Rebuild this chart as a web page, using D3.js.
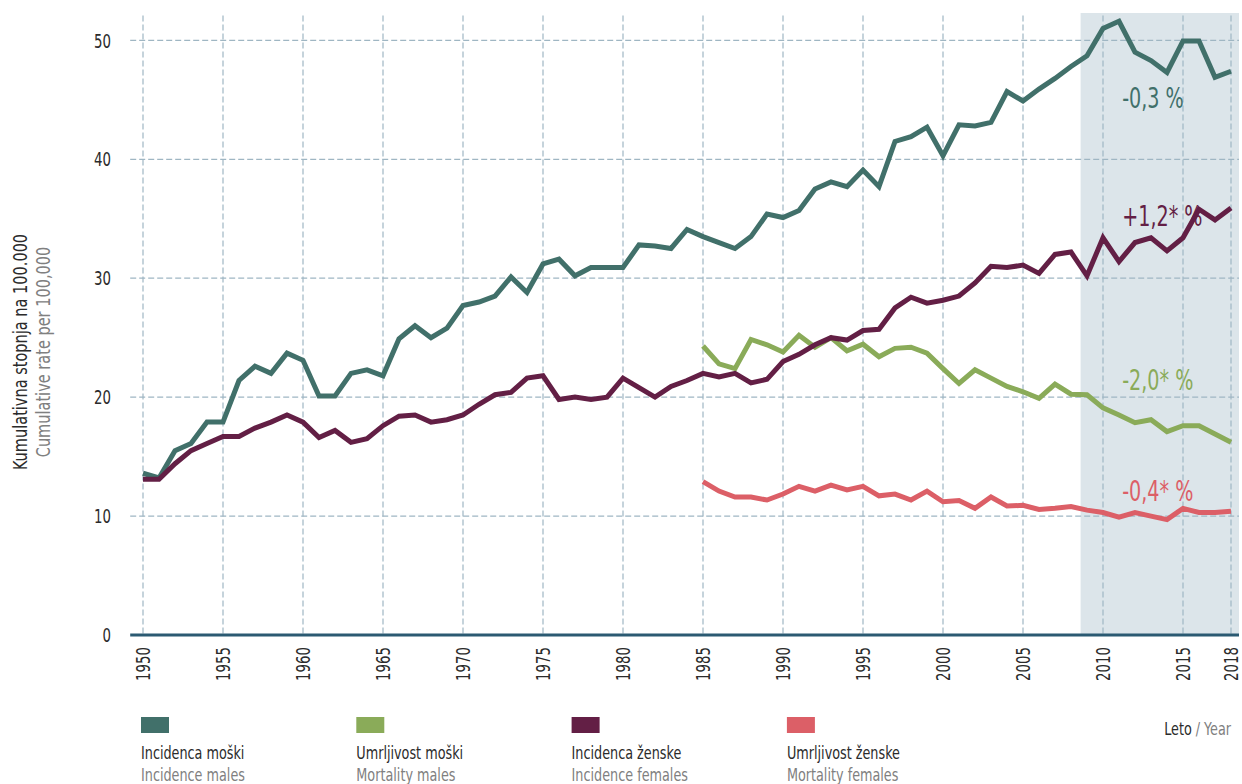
<!DOCTYPE html>
<html>
<head>
<meta charset="utf-8">
<script src="https://cdn.jsdelivr.net/npm/d3@7"></script>
<style>
  body { margin: 0; background: #fff; }
  text { font-family: "DejaVu Sans Condensed", "Liberation Sans Narrow", sans-serif; }
</style>
</head>
<body>
<main></main>
<script>
// Data
const incidenceStart = 1950;
const mortalityStart = 1985;

const incidenceMales = [
  13.6, 13.2, 15.5, 16.1, 17.9, 17.9, 21.4, 22.6, 22.0, 23.7,
  23.1, 20.1, 20.1, 22.0, 22.3, 21.8, 24.9, 26.0, 25.0, 25.8,
  27.7, 28.0, 28.5, 30.1, 28.8, 31.2, 31.6, 30.2, 30.9, 30.9,
  30.9, 32.8, 32.7, 32.5, 34.1, 33.5, 33.0, 32.5, 33.5, 35.4,
  35.1, 35.7, 37.5, 38.1, 37.7, 39.1, 37.7, 41.5, 41.9, 42.7,
  40.3, 42.9, 42.8, 43.1, 45.7, 44.9, 45.9, 46.8, 47.8, 48.7,
  51.0, 51.6, 49.0, 48.3, 47.3, 49.95, 49.95, 46.9, 47.4
];
const incidenceFemales = [
  13.1, 13.1, 14.4, 15.5, 16.1, 16.7, 16.7, 17.4, 17.9, 18.5,
  17.9, 16.6, 17.2, 16.2, 16.5, 17.6, 18.4, 18.5, 17.9, 18.1,
  18.5, 19.4, 20.2, 20.4, 21.6, 21.8, 19.8, 20.0, 19.8, 20.0,
  21.6, 20.8, 20.0, 20.9, 21.4, 22.0, 21.7, 22.0, 21.2, 21.5,
  23.0, 23.6, 24.4, 25.0, 24.8, 25.6, 25.7, 27.5, 28.4, 27.9,
  28.15, 28.5, 29.6, 31.0, 30.9, 31.1, 30.4, 32.0, 32.2, 30.2,
  33.4, 31.4, 33.0, 33.4, 32.3, 33.4, 35.8, 34.9, 35.9
];
const mortalityMales = [
  24.3, 22.8, 22.4, 24.85, 24.4, 23.8, 25.2, 24.2, 25.0, 23.9,
  24.45, 23.4, 24.1, 24.2, 23.7, 22.4, 21.15, 22.3, 21.6, 20.9,
  20.45, 19.9, 21.1, 20.25, 20.2, 19.1, 18.5, 17.85, 18.1, 17.1,
  17.6, 17.6, 16.9, 16.2
];
const mortalityFemales = [
  12.9, 12.1, 11.6, 11.6, 11.35, 11.85, 12.5, 12.1, 12.6, 12.2,
  12.5, 11.7, 11.85, 11.35, 12.1, 11.2, 11.3, 10.65, 11.6, 10.85,
  10.9, 10.55, 10.65, 10.8, 10.5, 10.3, 9.9, 10.3, 10.0, 9.7,
  10.65, 10.3, 10.3, 10.4
];

const seriesNamesSl = ["Incidenca moški", "Umrljivost moški", "Incidenca ženske", "Umrljivost ženske"];
const seriesNamesEn = ["Incidence males", "Mortality males", "Incidence females", "Mortality females"];
const seriesColors = ["#41706a", "#8aab59", "#631f45", "#dc5f67"];
const trendLabels = ["-0,3 %", "-2,0* %", "+1,2* %", "-0,4* %"];

const xTickYears = [1950, 1955, 1960, 1965, 1970, 1975, 1980, 1985, 1990, 1995, 2000, 2005, 2010, 2015, 2018];
const yTicks = [0, 10, 20, 30, 40, 50];
const trendPeriod = [2008.6, 2018.5];

const series = [
  { start: incidenceStart, values: incidenceMales },
  { start: mortalityStart, values: mortalityMales },
  { start: incidenceStart, values: incidenceFemales },
  { start: mortalityStart, values: mortalityFemales }
];

// squeeze text horizontally, the original uses a narrow typeface
function condense(sel, factor) {
  sel.each(function () {
    const w = this.getComputedTextLength();
    d3.select(this).attr("textLength", w * factor).attr("lengthAdjust", "spacingAndGlyphs");
  });
}

// Scales
const x = d3.scaleLinear().domain([1950, 2018]).range([143, 1231]);
const y = d3.scaleLinear().domain([0, 52.3]).range([635, 13]);
const xLeft = x(1949.2), xRight = x(2018.5);

const svg = d3.select("main").append("svg")
              .attr("width", 1242)
              .attr("height", 784);

// shaded trend period
svg.append("rect")
   .attr("x", x(trendPeriod[0]))
   .attr("y", y(52.3))
   .attr("width", x(trendPeriod[1]) - x(trendPeriod[0]))
   .attr("height", y(0) - y(52.3))
   .attr("fill", "#dce5ea");

// grid
const grid = svg.append("g")
                .attr("stroke", "#9fb6c3")
                .attr("stroke-width", 1.2)
                .attr("stroke-dasharray", "6,3");

grid.selectAll("line.h")
    .data(yTicks.filter(d => d > 0))
    .enter().append("line")
    .attr("x1", xLeft).attr("x2", xRight)
    .attr("y1", d => y(d)).attr("y2", d => y(d));

grid.selectAll("line.v")
    .data(xTickYears)
    .enter().append("line")
    .attr("x1", d => x(d)).attr("x2", d => x(d))
    .attr("y1", y(52.1)).attr("y2", y(0));

// y axis labels
svg.append("g").selectAll("text")
   .data(yTicks)
   .enter().append("text")
   .attr("x", 111)
   .attr("y", d => y(d))
   .attr("dy", "0.36em")
   .attr("text-anchor", "end")
   .attr("font-size", 20)
   .attr("fill", "#2b2b2b")
   .text(d => d)
   .call(condense, 0.74);

// x axis labels (rotated)
svg.append("g").selectAll("text")
   .data(xTickYears)
   .enter().append("text")
   .attr("transform", d => `translate(${x(d)},647) rotate(-90)`)
   .attr("dy", "0.36em")
   .attr("text-anchor", "end")
   .attr("font-size", 19)
   .attr("fill", "#2b2b2b")
   .text(d => d)
   .call(condense, 0.78);

// y axis title
const yTitle = svg.append("g").attr("transform", "translate(0,352) rotate(-90)");
yTitle.append("text")
      .attr("x", 0).attr("y", 27)
      .attr("text-anchor", "middle")
      .attr("font-size", 19)
      .attr("fill", "#2b2b2b")
      .text("Kumulativna stopnja na 100.000")
      .call(condense, 0.85);
yTitle.append("text")
      .attr("x", 0).attr("y", 50)
      .attr("text-anchor", "middle")
      .attr("font-size", 19)
      .attr("fill", "#808080")
      .text("Cumulative rate per 100,000")
      .call(condense, 0.85);

// lines
const line = d3.line()
               .x(d => x(d.year))
               .y(d => y(d.value));

svg.append("g").selectAll("path")
   .data(series)
   .enter().append("path")
   .attr("d", s => line(s.values.map((v, i) => ({ year: s.start + i, value: v }))))
   .attr("fill", "none")
   .attr("stroke", (s, i) => seriesColors[i])
   .attr("stroke-width", 5)
   .attr("stroke-linejoin", "miter");

// x axis base line
svg.append("line")
   .attr("x1", xLeft).attr("x2", xRight)
   .attr("y1", y(0)).attr("y2", y(0))
   .attr("stroke", "#2b5a72")
   .attr("stroke-width", 3);

// trend annotations (value position of each label baseline)
const labelAt = [44.3, 20.6, 34.4, 11.3];
svg.append("g").selectAll("text")
   .data(trendLabels)
   .enter().append("text")
   .attr("x", x(2011.2))
   .attr("y", (d, i) => y(labelAt[i]))
   .attr("font-size", 28)
   .attr("fill", (d, i) => seriesColors[i])
   .text(d => d)
   .call(condense, 0.76);

// legend
const legend = svg.append("g").selectAll("g")
                  .data(seriesNamesSl)
                  .enter().append("g")
                  .attr("transform", (d, i) => `translate(${141 + i * 215.3},0)`);

legend.append("rect")
      .attr("y", 717).attr("width", 28).attr("height", 16)
      .attr("fill", (d, i) => seriesColors[i]);
legend.append("text")
      .attr("y", 759)
      .attr("font-size", 18)
      .attr("fill", "#2b2b2b")
      .text(d => d)
      .call(condense, 0.79);
legend.append("text")
      .attr("y", 781)
      .attr("font-size", 18)
      .attr("fill", "#808080")
      .text((d, i) => seriesNamesEn[i])
      .call(condense, 0.79);

// x axis title: "Leto" dark, "/ Year" grey
const yearPart = svg.append("text")
                    .attr("x", 1231).attr("y", 735)
                    .attr("text-anchor", "end")
                    .attr("font-size", 18)
                    .attr("fill", "#808080")
                    .text("/ Year")
                    .call(condense, 0.79);
const yearW = +yearPart.attr("textLength");
svg.append("text")
   .attr("x", 1231 - yearW - 4).attr("y", 735)
   .attr("text-anchor", "end")
   .attr("font-size", 18)
   .attr("fill", "#2b2b2b")
   .text("Leto")
   .call(condense, 0.79);
</script>
</body>
</html>
